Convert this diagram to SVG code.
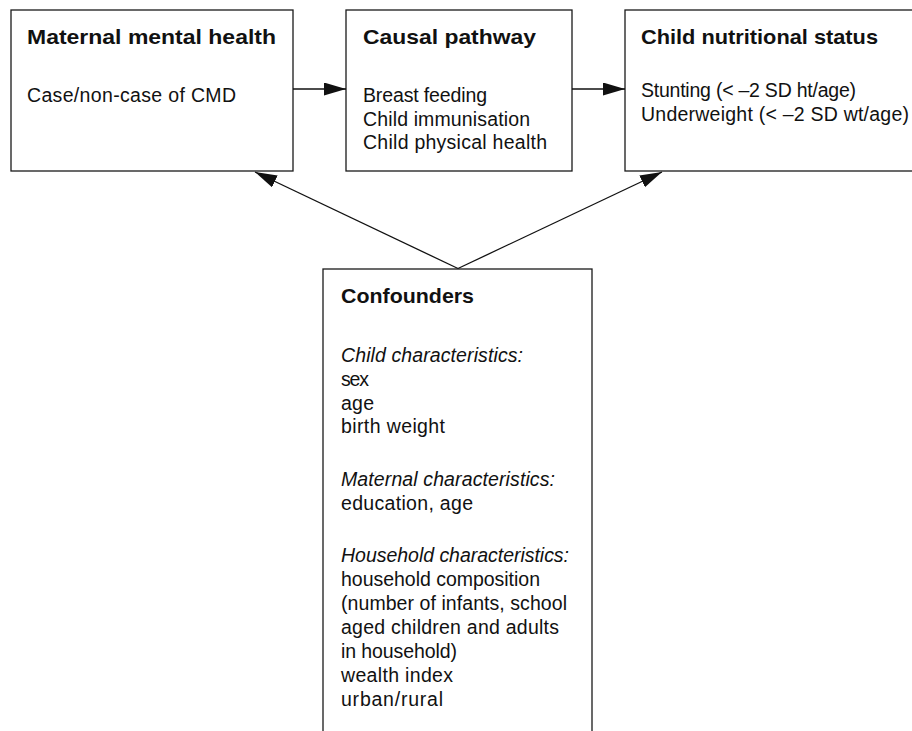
<svg xmlns="http://www.w3.org/2000/svg" width="912" height="731" viewBox="0 0 912 731">
<style>
.box{fill:#fff;stroke:#1a1a1a;stroke-width:1.3}
.t{font-family:"Liberation Sans",Arial,sans-serif;font-size:19.5px;fill:#111}
.b{font-weight:bold;font-size:21px}
.i{font-style:italic}
.c{stroke:#111;stroke-width:1.3;fill:none}
</style>
<defs>
<marker id="ah" markerUnits="userSpaceOnUse" markerWidth="24" markerHeight="14" refX="22" refY="6.5" orient="auto">
<path d="M0,0 L22,6.5 L0,13 z" fill="#111"/>
</marker>
</defs>
<rect width="912" height="731" fill="#fff"/>
<g id="maternal">
<rect class="box" x="11" y="10" width="282" height="161"/>
<text class="t b" x="27" y="44" textLength="249" lengthAdjust="spacingAndGlyphs">Maternal mental health</text>
<text class="t" x="27" y="102" textLength="209">Case/non-case of CMD</text>
</g>
<g id="causal">
<rect class="box" x="346" y="10" width="226" height="161"/>
<text class="t b" x="363" y="44" textLength="173" lengthAdjust="spacingAndGlyphs">Causal pathway</text>
<text class="t" x="363" y="102" textLength="124">Breast feeding</text>
<text class="t" x="363" y="125.5" textLength="167">Child immunisation</text>
<text class="t" x="363" y="149" textLength="184">Child physical health</text>
</g>
<g id="nutrition">
<rect class="box" x="625" y="10" width="300" height="161"/>
<text class="t b" x="641" y="44" textLength="237" lengthAdjust="spacingAndGlyphs">Child nutritional status</text>
<text class="t" x="641" y="97" textLength="215">Stunting (&lt; –2 SD ht/age)</text>
<text class="t" x="641" y="120.5" textLength="268">Underweight (&lt; –2 SD wt/age)</text>
</g>
<g id="confounders">
<rect class="box" x="323" y="269" width="269" height="480"/>
<text class="t b" x="341" y="303" textLength="133" lengthAdjust="spacingAndGlyphs">Confounders</text>
<text class="t i" x="341" y="362" textLength="182">Child characteristics:</text>
<text class="t" x="341" y="386" textLength="28">sex</text>
<text class="t" x="341" y="409.5" textLength="33">age</text>
<text class="t" x="341" y="433" textLength="104">birth weight</text>
<text class="t i" x="341" y="486" textLength="214">Maternal characteristics:</text>
<text class="t" x="341" y="510" textLength="132">education, age</text>
<text class="t i" x="341" y="562" textLength="228">Household characteristics:</text>
<text class="t" x="341" y="586" textLength="199">household composition</text>
<text class="t" x="341" y="610" textLength="226">(number of infants, school</text>
<text class="t" x="341" y="634" textLength="218">aged children and adults</text>
<text class="t" x="341" y="658" textLength="116">in household)</text>
<text class="t" x="341" y="682" textLength="112">wealth index</text>
<text class="t" x="341" y="706" textLength="102">urban/rural</text>
</g>
<g id="connectors">
<line class="c" x1="293" y1="89" x2="346" y2="89" marker-end="url(#ah)"/>
<line class="c" x1="572" y1="89" x2="625" y2="89" marker-end="url(#ah)"/>
<line class="c" x1="458" y1="268.5" x2="255" y2="172" marker-end="url(#ah)"/>
<line class="c" x1="458" y1="268.5" x2="662" y2="172" marker-end="url(#ah)"/>
</g>
</svg>
